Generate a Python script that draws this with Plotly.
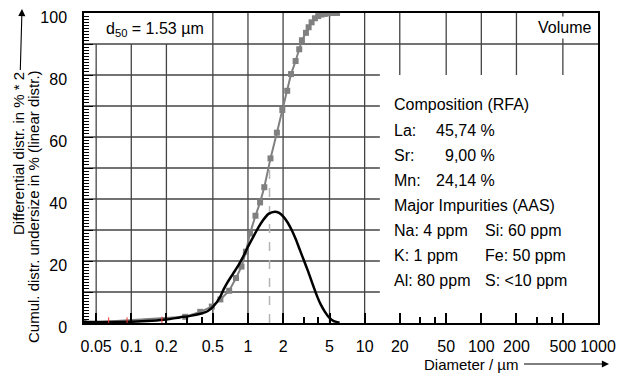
import math
import plotly.graph_objects as go

# ---------------- data ----------------
cum_x = [0.039, 0.29, 0.39, 0.49, 0.58, 0.69, 0.79, 0.88, 0.96, 1.04, 1.16, 1.27,
         1.38, 1.56, 1.77, 1.97, 2.17, 2.34, 2.56, 2.75, 2.90, 3.14, 3.31, 3.51,
         3.75, 4.0, 4.27, 4.55, 4.85, 5.15, 5.45, 5.8]
cum_y = [0.0, 2.0, 3.6, 5.3, 7.6, 10.4, 14.5, 18.2, 23.0, 28.9, 34.6, 38.9,
         43.8, 53.1, 61.4, 68.7, 74.9, 80.3, 84.5, 88.3, 91.2, 93.6, 95.4, 97.0,
         98.3, 99.0, 99.5, 99.7, 99.9, 100.0, 100.0, 100.0]

diff_x = [0.039, 0.06, 0.1, 0.15, 0.2, 0.26, 0.32, 0.39, 0.45, 0.5, 0.575, 0.614,
          0.66, 0.748, 0.83, 0.91, 1.0, 1.11, 1.22, 1.35, 1.5, 1.7, 1.85, 2.01,
          2.18, 2.37, 2.57, 2.79, 3.03, 3.29, 3.57, 3.88, 4.2, 4.57, 4.95, 5.38, 6.1]
diff_y = [0.3, 0.3, 0.4, 0.7, 1.1, 1.8, 2.3, 3.0, 3.8, 5.2, 8.3, 10.6,
          12.8, 16.0, 18.7, 21.4, 24.6, 27.8, 30.6, 33.2, 35.2, 35.9, 35.5, 34.3,
          32.5, 30.0, 27.0, 23.5, 20.0, 16.5, 12.7, 9.0, 6.0, 3.6, 1.8, 0.7, 0.1]

d50 = 1.53
d50_level = 50

red_x = [0.064, 0.092, 0.183]
red_y = [0.7, 0.7, 0.9]

x_ticks = [0.05, 0.1, 0.2, 0.5, 1, 2, 5, 10, 20, 50, 100, 200, 500, 1000]
x_tick_labels = ["0.05", "0.1", "0.2", "0.5", "1", "2", "5", "10", "20", "50",
                 "100", "200", "500", "1000"]
x_minor_ticks = [0.3, 0.4, 3, 4, 30, 40, 300, 400]
y_ticks = [0, 10, 20, 30, 40, 50, 60, 70, 80, 90, 100]
y_tick_labels = ["0", "", "20", "", "40", "", "60", "", "80", "", "100"]

comp_title = "Composition (RFA)"
comp_labels = ["La:", "Sr:", "Mn:"]
comp_values = ["45,74 %", "9,00 %", "24,14 %"]
imp_title = "Major Impurities (AAS)"
imp_left = ["Na: 4 ppm", "K: 1 ppm", "Al: 80 ppm"]
imp_right = ["Si: 60 ppm", "Fe: 50 ppm", "S: <10 ppm"]

# ---------------- layout geometry ----------------
W, H = 618, 379
L, R, T, B = 84, 20, 13, 56
PW, PH = W - L - R, H - T - B
FONT = "Liberation Sans, Arial, sans-serif"
XMIN_LOG, XMAX_LOG = -1.4053, 3.0
COMP_BOX_X0 = 13.5      # left edge of the composition panel (data units)
COMP_BOX_TOP = 80       # top of the composition panel
D50_BOX_X1 = 0.5        # right edge of d50 panel
D50_BOX_BOTTOM = 90     # bottom of d50 panel
GRID = dict(color="#444444", width=1.3)


def fx(px):
    return (px - L) / PW


def fy(py):
    return (T + PH - py) / PH


def xpaper(v):
    return (math.log10(v) - XMIN_LOG) / (XMAX_LOG - XMIN_LOG)


fig = go.Figure()

fig.add_trace(go.Scatter(x=[d50, d50], y=[0, d50_level], mode="lines",
                         line=dict(color="#b4b4b4", width=1.5, dash="dash"),
                         showlegend=False, hoverinfo="skip"))
fig.add_trace(go.Scatter(x=cum_x, y=cum_y, mode="lines+markers",
                         line=dict(color="#808080", width=2),
                         marker=dict(symbol="square", size=6, color="#808080"),
                         showlegend=False))
fig.add_trace(go.Scatter(x=diff_x, y=diff_y, mode="lines", line_shape="spline",
                         line=dict(color="black", width=2.5, smoothing=0.6),
                         showlegend=False))
fig.add_trace(go.Scatter(x=red_x, y=red_y, mode="markers",
                         marker=dict(symbol="line-ns", size=5,
                                     line=dict(color="#ff3030", width=1)),
                         showlegend=False))

# ---------- grid (drawn so that the two text panels stay clear) ----------
shapes = []
for v in x_ticks[:-1]:
    if v < D50_BOX_X1:
        y0, y1 = 0, D50_BOX_BOTTOM
    elif v > COMP_BOX_X0:
        y0, y1 = COMP_BOX_TOP, 100
    else:
        y0, y1 = 0, 100
    shapes.append(dict(type="line", xref="paper", yref="y", x0=xpaper(v), x1=xpaper(v),
                       y0=y0, y1=y1, line=GRID, layer="below"))
for h in y_ticks[1:-1]:
    x1 = xpaper(COMP_BOX_X0) if h <= COMP_BOX_TOP else 1
    shapes.append(dict(type="line", xref="paper", yref="y", x0=0, x1=x1,
                       y0=h, y1=h, line=GRID, layer="below"))

ann = []
base = dict(xref="paper", yref="paper", showarrow=False,
            font=dict(family=FONT, size=16, color="black"))

ann.append(dict(base, x=fx(104), y=fy(29), xanchor="left", yanchor="middle",
                text="d<sub>50</sub> = 1.53 µm"))
ann.append(dict(base, x=fx(594), y=fy(28), xanchor="right", yanchor="middle",
                text="Volume", bgcolor="white", borderpad=2))
ann.append(dict(base, x=fx(392), y=fy(104), xanchor="left", yanchor="middle",
                text=comp_title))
for i, (lab, val) in enumerate(zip(comp_labels, comp_values)):
    yy = fy(130.5 + 25 * i)
    ann.append(dict(base, x=fx(392), y=yy, xanchor="left", yanchor="middle", text=lab))
    ann.append(dict(base, x=fx(497), y=yy, xanchor="right", yanchor="middle", text=val))
ann.append(dict(base, x=fx(392), y=fy(205.5), xanchor="left", yanchor="middle",
                text=imp_title))
for i, (a, b) in enumerate(zip(imp_left, imp_right)):
    yy = fy(230.5 + 25 * i)
    ann.append(dict(base, x=fx(392), y=yy, xanchor="left", yanchor="middle", text=a))
    ann.append(dict(base, x=fx(483), y=yy, xanchor="left", yanchor="middle", text=b))

# axis titles, each with its arrow
title_font = dict(family=FONT, size=15, color="black")
ann.append(dict(xref="paper", yref="paper", x=fx(22), y=fy(9),
                axref="pixel", ayref="pixel", ax=-4, ay=145,
                showarrow=True, arrowhead=2, arrowsize=1.3, arrowwidth=1.1,
                arrowcolor="black", standoff=0, startstandoff=1,
                textangle=-90, text="Differential distr. in % * 2", font=title_font))
ann.append(dict(base, x=fx(34), y=fy(207), xanchor="center", yanchor="middle",
                textangle=-90, text="Cumul. distr. undersize in % (linear distr.)",
                font=title_font))
ann.append(dict(xref="paper", yref="paper", x=fx(609), y=fy(364),
                axref="pixel", ayref="pixel", ax=-138, ay=0,
                showarrow=True, arrowhead=2, arrowsize=1.3, arrowwidth=1.1,
                arrowcolor="black", standoff=0, startstandoff=4,
                text="Diameter / µm", font=title_font))

fig.update_layout(
    width=W, height=H,
    margin=dict(l=L, r=R, t=T, b=B, autoexpand=False),
    paper_bgcolor="white", plot_bgcolor="white",
    font=dict(family=FONT, size=16, color="black"),
    annotations=ann, shapes=shapes,
    showlegend=False,
)

fig.update_xaxes(
    type="log", range=[XMIN_LOG, XMAX_LOG], automargin=False,
    tickmode="array", tickvals=x_ticks, ticktext=x_tick_labels,
    ticks="inside", ticklen=10, tickwidth=1.5, tickcolor="black",
    ticklabelstandoff=8,
    showgrid=False,
    showline=True, linecolor="black", linewidth=1.5, mirror=True,
    zeroline=False,
    minor=dict(tickmode="array", tickvals=x_minor_ticks, ticks="inside",
               ticklen=6, tickwidth=1.5, tickcolor="black", showgrid=False),
    tickfont=dict(family=FONT, size=16),
)
fig.update_yaxes(
    range=[0, 100], automargin=False,
    tickmode="array", tickvals=y_ticks, ticktext=y_tick_labels,
    ticks="inside", ticklen=9, tickwidth=1, tickcolor="black",
    ticklabelstandoff=12, ticklabelshift=4,
    showgrid=False,
    showline=True, linecolor="black", linewidth=1.5, mirror=True,
    zeroline=False,
    minor=dict(dtick=1, ticks="inside", ticklen=5, tickwidth=1,
               tickcolor="black", showgrid=False),
    tickfont=dict(family=FONT, size=16),
)

fig.write_html("out.html", config={"displayModeBar": False},
               post_script="document.body.style.margin='0px';")
